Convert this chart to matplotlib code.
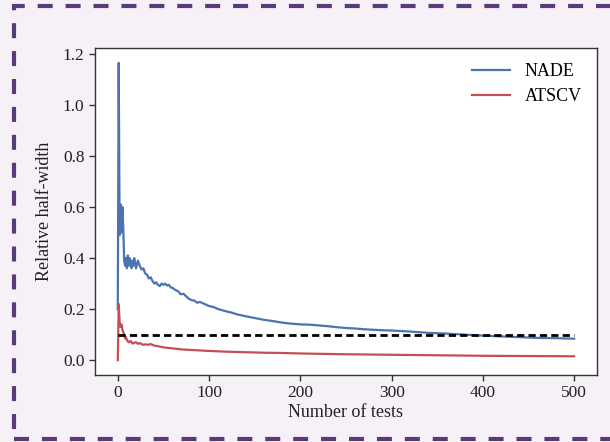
import matplotlib
matplotlib.use("Agg")
import matplotlib.pyplot as plt
from matplotlib.patches import Rectangle

nade_x = [0, 1, 2, 3, 4, 5, 6, 7, 8, 9, 10, 11, 12, 13, 14, 15, 16, 17, 18, 19, 20,
          22, 24, 26, 28, 30, 32, 34, 36, 38, 40, 42, 44, 46, 48, 50, 52, 54, 56, 58, 60,
          63, 66, 69, 72, 75, 78, 81, 84, 87, 90, 95, 100, 105, 110, 115, 120, 125, 130,
          140, 150, 160, 170, 180, 190, 200, 210, 220, 230, 240, 250, 260, 270, 280, 290,
          300, 320, 340, 360, 380, 400, 420, 440, 460, 480, 500]
nade_y = [0.20, 1.165, 0.49, 0.61, 0.50, 0.60, 0.52, 0.39, 0.37, 0.40, 0.36, 0.41, 0.37,
          0.40, 0.38, 0.36, 0.39, 0.37, 0.40, 0.38, 0.36,
          0.39, 0.37, 0.355, 0.36, 0.34, 0.335, 0.32, 0.325, 0.31, 0.30, 0.305, 0.295,
          0.29, 0.30, 0.295, 0.30, 0.292, 0.295, 0.285, 0.283,
          0.275, 0.27, 0.258, 0.26, 0.25, 0.24, 0.235, 0.233, 0.225, 0.228, 0.22, 0.212,
          0.208, 0.20, 0.195, 0.19, 0.186, 0.18,
          0.172, 0.165, 0.158, 0.153, 0.147, 0.143, 0.140, 0.139, 0.136, 0.133, 0.129,
          0.126, 0.124, 0.121, 0.119, 0.117,
          0.116, 0.112, 0.107, 0.104, 0.100, 0.096, 0.093, 0.090, 0.087, 0.086, 0.084]

atscv_x = [0, 1, 2, 3, 4, 5, 6, 7, 8, 9, 10, 12, 14, 16, 18, 20, 22, 24, 26, 28, 30, 33,
           36, 40, 45, 50, 60, 70, 80, 90, 100, 120, 140, 160, 180, 200, 250, 300, 350,
           400, 450, 500]
atscv_y = [0.0, 0.22, 0.15, 0.13, 0.14, 0.12, 0.11, 0.10, 0.085, 0.09, 0.078, 0.07, 0.075,
           0.065, 0.068, 0.07, 0.064, 0.067, 0.063, 0.060, 0.062, 0.060, 0.063, 0.057,
           0.054, 0.050, 0.046, 0.042, 0.040, 0.038, 0.036, 0.033, 0.031, 0.029, 0.028,
           0.026, 0.023, 0.021, 0.019, 0.017, 0.016, 0.015]

target_level = 0.1
target_range = [0, 500]

x_ticks = [0, 100, 200, 300, 400, 500]
y_ticks = [0.0, 0.2, 0.4, 0.6, 0.8, 1.0, 1.2]

plt.rcParams['font.family'] = ['Liberation Serif', 'DejaVu Serif']

fig = plt.figure(figsize=(6.1, 4.42), dpi=100, facecolor='#f6f1f6')
ax = fig.add_axes([0.1557, 0.1516, 0.8230, 0.7398])
ax.set_facecolor('white')

ax.plot(nade_x, nade_y, color='#4c72b0', lw=1.6, label='NADE')
ax.plot(atscv_x, atscv_y, color='#c44e52', lw=1.6, label='ATSCV')
ax.plot(target_range, [target_level, target_level], color='black', lw=2.0,
        linestyle=(0, (2.6, 1.5)))

ax.set_xticks(x_ticks)
ax.set_yticks(y_ticks)
ax.set_xticklabels([str(t) for t in x_ticks])
ax.set_yticklabels([f"{t:.1f}" for t in y_ticks])
ax.tick_params(labelsize=12.5, length=4, width=1, colors='#333333', labelcolor='#222222')
for s in ax.spines.values():
    s.set_color('#333333')
    s.set_linewidth(1.0)

ax.set_xlabel('Number of tests', fontsize=13, color='#222222', labelpad=2)
ax.set_ylabel('Relative half-width', fontsize=13, color='#222222', labelpad=7)

ax.legend(loc='upper right', frameon=False, fontsize=13, handlelength=2.1,
          handletextpad=0.8, borderaxespad=0.45, labelspacing=0.45)

border = Rectangle((13.5 / 610, 3 / 442), 1.05, (436 - 3) / 442 + 0.001,
                   transform=fig.transFigure, fill=False, edgecolor='#5b3a7c',
                   linewidth=3.0, linestyle=(0, (3.6, 3.1)), clip_on=False)
fig.patches.append(border)

fig.savefig('out.png', dpi=100, facecolor=fig.get_facecolor())
